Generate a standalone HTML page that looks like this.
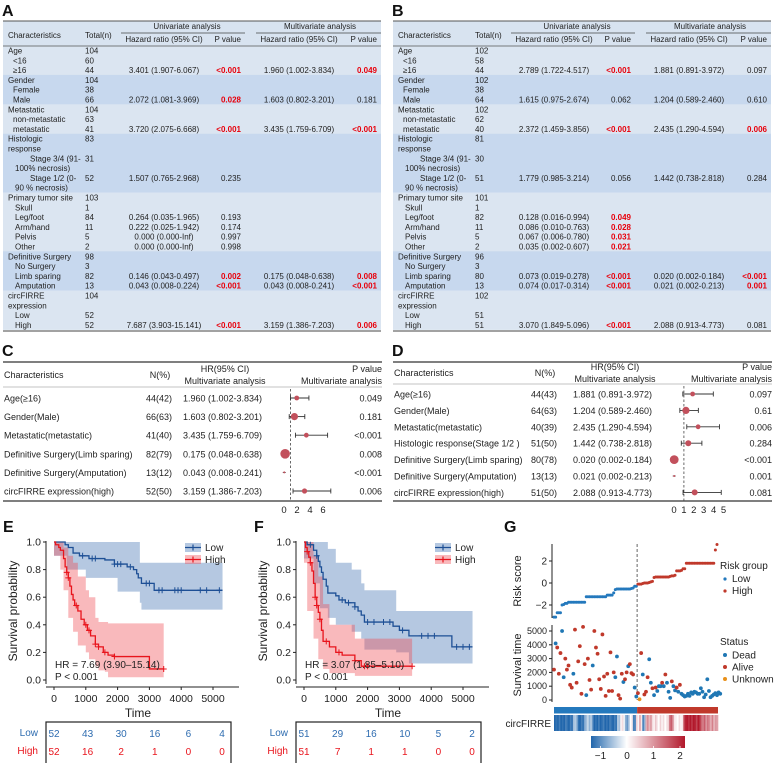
<!DOCTYPE html>
<html><head><meta charset="utf-8">
<style>
html,body{margin:0;padding:0;background:#fff;}
svg{display:block;font-family:"Liberation Sans",Arial,sans-serif;}
</style></head>
<body>
<svg id="fig" width="777" height="763" viewBox="0 0 777 763" xmlns="http://www.w3.org/2000/svg"></svg>
<script>
// ---------- DATA ----------
const tableA_rows = [
 ['Age',0,'104','','',0,'','',0,0],
 ['<16',5,'60','','',0,'','',0,0],
 ['\u226516',5,'44','3.401 (1.907-6.067)','<0.001',1,'1.960 (1.002-3.834)','0.049',1,0],
 ['Gender',0,'104','','',0,'','',0,1],
 ['Female',5,'38','','',0,'','',0,1],
 ['Male',5,'66','2.072 (1.081-3.969)','0.028',1,'1.603 (0.802-3.201)','0.181',0,1],
 ['Metastatic',0,'104','','',0,'','',0,0],
 ['non-metastatic',5,'63','','',0,'','',0,0],
 ['metastatic',5,'41','3.720 (2.075-6.668)','<0.001',1,'3.435 (1.759-6.709)','<0.001',1,0],
 ['Histologic',0,'83','','',0,'','',0,1],
 ['response',0,'','','',0,'','',0,1],
 ['Stage 3/4 (91-',22,'31','','',0,'','',0,1],
 ['100% necrosis)',7,'','','',0,'','',0,1],
 ['Stage 1/2 (0-',22,'52','1.507 (0.765-2.968)','0.235',0,'','',0,1],
 ['90 % necrosis)',7,'','','',0,'','',0,1],
 ['Primary tumor site',0,'103','','',0,'','',0,0],
 ['Skull',7,'1','','',0,'','',0,0],
 ['Leg/foot',7,'84','0.264 (0.035-1.965)','0.193',0,'','',0,0],
 ['Arm/hand',7,'11','0.222 (0.025-1.942)','0.174',0,'','',0,0],
 ['Pelvis',7,'5','0.000 (0.000-Inf)','0.997',0,'','',0,0],
 ['Other',7,'2','0.000 (0.000-Inf)','0.998',0,'','',0,0],
 ['Definitive Surgery',0,'98','','',0,'','',0,1],
 ['No Surgery',7,'3','','',0,'','',0,1],
 ['Limb sparing',7,'82','0.146 (0.043-0.497)','0.002',1,'0.175 (0.048-0.638)','0.008',1,1],
 ['Amputation',7,'13','0.043 (0.008-0.224)','<0.001',1,'0.043 (0.008-0.241)','<0.001',1,1],
 ['circFIRRE',0,'104','','',0,'','',0,0],
 ['expression',0,'','','',0,'','',0,0],
 ['Low',7,'52','','',0,'','',0,0],
 ['High',7,'52','7.687 (3.903-15.141)','<0.001',1,'3.159 (1.386-7.203)','0.006',1,0]
];
const tableB_rows = [
 ['Age',0,'102','','',0,'','',0,0],
 ['<16',5,'58','','',0,'','',0,0],
 ['\u226516',5,'44','2.789 (1.722-4.517)','<0.001',1,'1.881 (0.891-3.972)','0.097',0,0],
 ['Gender',0,'102','','',0,'','',0,1],
 ['Female',5,'38','','',0,'','',0,1],
 ['Male',5,'64','1.615 (0.975-2.674)','0.062',0,'1.204 (0.589-2.460)','0.610',0,1],
 ['Metastatic',0,'102','','',0,'','',0,0],
 ['non-metastatic',5,'62','','',0,'','',0,0],
 ['metastatic',5,'40','2.372 (1.459-3.856)','<0.001',1,'2.435 (1.290-4.594)','0.006',1,0],
 ['Histologic',0,'81','','',0,'','',0,1],
 ['response',0,'','','',0,'','',0,1],
 ['Stage 3/4 (91-',22,'30','','',0,'','',0,1],
 ['100% necrosis)',7,'','','',0,'','',0,1],
 ['Stage 1/2 (0-',22,'51','1.779 (0.985-3.214)','0.056',0,'1.442 (0.738-2.818)','0.284',0,1],
 ['90 % necrosis)',7,'','','',0,'','',0,1],
 ['Primary tumor site',0,'101','','',0,'','',0,0],
 ['Skull',7,'1','','',0,'','',0,0],
 ['Leg/foot',7,'82','0.128 (0.016-0.994)','0.049',1,'','',0,0],
 ['Arm/hand',7,'11','0.086 (0.010-0.763)','0.028',1,'','',0,0],
 ['Pelvis',7,'5','0.067 (0.006-0.780)','0.031',1,'','',0,0],
 ['Other',7,'2','0.035 (0.002-0.607)','0.021',1,'','',0,0],
 ['Definitive Surgery',0,'96','','',0,'','',0,1],
 ['No Surgery',7,'3','','',0,'','',0,1],
 ['Limb sparing',7,'80','0.073 (0.019-0.278)','<0.001',1,'0.020 (0.002-0.184)','<0.001',1,1],
 ['Amputation',7,'13','0.074 (0.017-0.314)','<0.001',1,'0.021 (0.002-0.213)','0.001',1,1],
 ['circFIRRE',0,'102','','',0,'','',0,0],
 ['expression',0,'','','',0,'','',0,0],
 ['Low',7,'51','','',0,'','',0,0],
 ['High',7,'51','3.070 (1.849-5.096)','<0.001',1,'2.088 (0.913-4.773)','0.081',0,0]
];

// Forest C
const forestC_labels = ['Age(\u226516)','Gender(Male)','Metastatic(metastatic)','Definitive Surgery(Limb sparing)','Definitive Surgery(Amputation)','circFIRRE expression(high)'];
const forestC_n = ['44(42)','66(63)','41(40)','82(79)','13(12)','52(50)'];
const forestC_hr = [1.960,1.603,3.435,0.175,0.043,3.159];
const forestC_lo = [1.002,0.802,1.759,0.048,0.008,1.386];
const forestC_hi = [3.834,3.201,6.709,0.638,0.241,7.203];
const forestC_p = ['0.049','0.181','<0.001','0.008','<0.001','0.006'];
const forestC_box = [2.4,3.6,2.4,4.8,1.0,2.6];
const forestC_ticks = [0,2,4,6];
// Forest D
const forestD_labels = ['Age(\u226516)','Gender(Male)','Metastatic(metastatic)','Histologic response(Stage 1/2 )','Definitive Surgery(Limb sparing)','Definitive Surgery(Amputation)','circFIRRE expression(high)'];
const forestD_n = ['44(43)','64(63)','40(39)','51(50)','80(78)','13(13)','51(50)'];
const forestD_hr = [1.881,1.204,2.435,1.442,0.020,0.021,2.088];
const forestD_lo = [0.891,0.589,1.290,0.738,0.002,0.002,0.913];
const forestD_hi = [3.972,2.460,4.594,2.818,0.184,0.213,4.773];
const forestD_p = ['0.097','0.61','0.006','0.284','<0.001','0.001','0.081'];
const forestD_box = [2.4,3.6,2.4,3.0,4.4,1.0,3.0];
const forestD_ticks = [0,1,2,3,4,5];

// KM E
const kmE_lowT = [0,350,450,600,800,1100,1600,1900,2300,2500,2600,2650,2750,3150];
const kmE_lowS = [1,0.98,0.96,0.92,0.90,0.88,0.87,0.84,0.82,0.80,0.77,0.74,0.70,0.65];
const kmE_lowEnd = 5300;
const kmE_lowCens = [900,1200,1300,1900,2000,2100,2400,2900,3000,3300,3400,3800,3900,4000,4600,4800,5200];
const kmE_highT = [0,50,150,200,300,350,400,450,500,550,600,650,750,850,950,1050,1150,1300,1400,1550,1700,1900,3000];
const kmE_highS = [1,0.98,0.96,0.94,0.88,0.82,0.78,0.74,0.68,0.62,0.58,0.54,0.50,0.44,0.40,0.36,0.32,0.26,0.24,0.20,0.18,0.17,0.08];
const kmE_highEnd = 3450;
const kmE_highCens = [400,450,700,1000,1100,1300,1400,1600,1900,3450];
const bandE_lowT = [0,400,1000,2000,2700,2750,3150,5300];
const bandE_lowUp = [1,1,1,1,0.85,0.85,0.85,0.85];
const bandE_lowLo = [0.96,0.9,0.8,0.74,0.64,0.56,0.51,0.51];
const bandE_highT = [0,200,300,450,600,750,1000,1100,1300,1400,1600,1700,3000,3450];
const bandE_highUp = [1,1,0.96,0.9,0.85,0.75,0.65,0.6,0.45,0.42,0.42,0.41,0.41,0.41];
const bandE_highLo = [0.96,0.9,0.8,0.65,0.45,0.35,0.25,0.2,0.15,0.1,0.07,0.06,0.02,0.02];
// KM F
const kmF_lowT = [0,100,300,400,450,500,550,600,700,750,1000,1100,1300,1600,1700,1800,1900,2800,3000,3300,4650];
const kmF_lowS = [1,0.98,0.94,0.90,0.86,0.82,0.78,0.73,0.68,0.63,0.61,0.58,0.56,0.53,0.50,0.47,0.42,0.39,0.36,0.32,0.24];
const kmF_lowEnd = 5300;
const kmF_lowCens = [200,400,1200,1400,1600,2000,2200,2500,2700,3100,3700,3900,4100,4800,5000,5200];
const kmF_highT = [0,50,100,150,200,250,300,350,400,450,500,550,600,800,1000,1200,1600,1800];
const kmF_highS = [1,0.96,0.93,0.89,0.85,0.79,0.70,0.60,0.54,0.49,0.44,0.36,0.28,0.24,0.20,0.18,0.14,0.10];
const kmF_highEnd = 3400;
const kmF_highCens = [100,200,350,400,500,700,1100,1600,1900,2000,3400];
const bandF_lowT = [0,300,500,750,1000,1500,1800,1900,2900,3300,4650,5300];
const bandF_lowUp = [1,1,1,0.95,0.85,0.8,0.7,0.65,0.5,0.5,0.5,0.5];
const bandF_lowLo = [0.96,0.88,0.7,0.52,0.45,0.4,0.35,0.3,0.22,0.2,0.12,0.12];
const bandF_highT = [0,100,300,450,600,800,1600,1800,3400];
const bandF_highUp = [1,1,0.9,0.75,0.55,0.4,0.3,0.3,0.3];
const bandF_highLo = [0.96,0.85,0.5,0.3,0.15,0.08,0.05,0.03,0.03];
const riskTimes = [0,1000,2000,3000,4000,5000];
const riskE_low = [52,43,30,16,6,4];
const riskE_high = [52,16,2,1,0,0];
const riskF_low = [51,29,16,10,5,2];
const riskF_high = [51,7,1,1,0,0];

// G
const riskScore = [-3.1,-3.1,-2.7,-2.7,-2.7,-2.0,-1.95,-1.85,-1.85,-1.75,-1.75,-1.75,-1.75,-1.75,-1.75,-1.75,-1.75,-1.75,-1.75,-1.75,
 -1.25,-1.25,-1.25,-1.25,-1.25,-1.25,-1.25,-1.25,-1.25,-1.25,-1.25,-1.25,-1.25,-1.1,-1.1,-1.1,-1.1,-0.9,-0.6,-0.55,
 -0.55,-0.55,-0.55,-0.55,-0.55,-0.55,-0.55,-0.55,-0.5,-0.45,-0.3,-0.3,
 -0.1,-0.1,-0.1,-0.05,0.0,0.0,0.0,0.05,0.1,0.15,0.5,0.55,0.55,0.55,0.55,0.55,0.55,0.55,
 0.55,0.55,0.6,0.65,0.65,0.7,1.1,1.1,1.1,1.15,1.3,1.3,1.8,1.8,1.8,1.8,1.8,1.8,1.8,1.8,
 1.8,1.8,1.8,1.8,1.8,1.8,1.8,1.8,1.8,1.8,3.0,3.5];
const survTime = [2200,4100,3800,1900,3400,5000,1650,3000,2200,2500,1100,900,1900,5100,1250,2800,3900,450,5300,2600,
 350,3000,1450,750,2500,5000,3800,3350,1500,800,4750,1700,300,1900,650,3450,650,2000,1650,3150,
 350,100,1900,1300,1500,2000,2450,2600,1950,1850,900,250,
 500,50,3400,1850,400,600,1650,2950,1250,850,350,900,650,1000,1000,1250,1000,1850,1250,600,
 150,1350,1000,700,900,600,1100,450,350,250,300,450,300,550,450,600,550,450,450,850,
 600,200,400,1500,650,200,300,400,500,350,550,450];
const survStatus = [1,0,1,1,1,0,0,1,1,1,1,1,0,1,1,1,1,1,1,1,
 0,1,1,1,0,1,1,1,1,1,1,1,1,1,1,1,1,1,0,0,
 1,1,1,0,1,1,0,1,1,1,0,0,
 1,2,1,0,1,1,1,0,0,1,0,1,0,0,0,1,0,1,0,0,
 0,1,0,0,1,0,1,0,0,0,0,0,0,0,0,0,0,0,0,0,
 0,0,0,0,0,0,0,0,0,0,0,0];
const heatExpr = [-1.2,-1.1,-1.2,-1.0,-1.3,-1.1,-1.2,-1.0,-1.1,-1.2,-1.0,-1.1,-0.5,-0.4,-0.6,-1.1,-1.2,-1.0,-1.1,-0.7,
 -0.5,-0.3,-0.6,-0.4,-0.8,-1.2,-1.1,-1.3,-1.0,-1.2,-1.1,-1.0,-1.2,-1.1,-1.3,-1.0,-1.1,-1.2,-1.0,-1.1,
 -0.4,-0.5,0.1,0.3,-0.1,-0.6,-0.8,-0.5,0.0,0.2,-1.0,-0.9,
 0.4,0.1,0.8,0.2,-1.0,-0.6,0.7,1.0,0.6,0.9,0.3,0.1,0.5,0.2,0.0,0.4,0.1,0.3,0.0,0.2,
 0.4,1.2,1.4,0.9,0.2,0.1,0.0,0.3,0.1,0.2,1.6,1.9,2.0,1.8,2.1,1.7,2.0,1.9,1.6,2.0,
 1.8,1.3,1.1,1.4,0.9,1.2,1.0,0.7,1.1,0.6,0.9,0.8];
const riskTicks = [-2,0,2];
const survTicks = [0,1000,2000,3000,4000,5000];
const cbarTicks = [-1,0,1,2];

// ---------- HELPERS ----------
const NS='http://www.w3.org/2000/svg';
const svg=document.getElementById('fig');
function mk(tag,attrs,parent){const e=document.createElementNS(NS,tag);for(const k in attrs)e.setAttribute(k,attrs[k]);(parent||svg).appendChild(e);return e;}
function tx(str,x,y,attrs,parent){const e=mk('text',Object.assign({x:x,y:y,'font-size':8,fill:'#222'},attrs||{}),parent);e.textContent=str;return e;}
function grp(name){const g=mk('g',{});return g;}

// panel labels
[['A',2,16],['B',392,16],['C',2,356],['D',392,356],['E',3,532],['F',254,532],['G',504,532]].forEach(function(p){
  const t=tx(p[0],p[1],p[2],{'font-size':16,'font-weight':'bold',fill:'#111'});
  
  
});

// ---------- TABLES ----------
function drawTable(x0,rows,name){
  const g=grp(name);
  const r0=50.5, rh=9.8;
  mk('rect',{x:x0+3,y:21,width:378,height:25,fill:'#d8e3f0'},g);
  let start=0;
  for(let i=1;i<=rows.length;i++){
    if(i===rows.length||rows[i][9]!==rows[start][9]||(rows[i][1]===0&&rows[i][2]!=='')){
      const y1=r0+start*rh-5, y2=r0+(i-1)*rh+5;
      const bg=mk('rect',{x:x0+3,y:y1,width:378,height:y2-y1,fill:rows[start][9]?'#c7d8ee':'#dbe5f1'},g);
      
      
      start=i;
    }
  }
  mk('line',{x1:x0+3,x2:x0+381,y1:21,y2:21,stroke:'#555','stroke-width':1},g);
  mk('line',{x1:x0+3,x2:x0+381,y1:46,y2:46,stroke:'#555','stroke-width':0.8},g);
  mk('line',{x1:x0+3,x2:x0+381,y1:331,y2:331,stroke:'#444','stroke-width':1},g);
  mk('line',{x1:x0+121,x2:x0+245,y1:33,y2:33,stroke:'#444','stroke-width':0.7},g);
  mk('line',{x1:x0+256,x2:x0+381,y1:33,y2:33,stroke:'#444','stroke-width':0.7},g);
  tx('Characteristics',x0+8,38,{},g);
  tx('Total(n)',x0+85,38,{},g);
  tx('Univariate analysis',x0+187,29,{'text-anchor':'middle'},g);
  tx('Multivariate analysis',x0+320,29,{'text-anchor':'middle'},g);
  tx('Hazard ratio (95% CI)',x0+164,42,{'text-anchor':'middle'},g);
  tx('P value',x0+241,42,{'text-anchor':'end'},g);
  tx('Hazard ratio (95% CI)',x0+299,42,{'text-anchor':'middle'},g);
  tx('P value',x0+377,42,{'text-anchor':'end'},g);
  rows.forEach(function(r,i){
    const y=r0+i*rh+3;
    tx(r[0],x0+8+r[1],y,{},g);
    if(r[2])tx(r[2],x0+85,y,{},g);
    if(r[3])tx(r[3],x0+164,y,{'text-anchor':'middle'},g);
    if(r[4])tx(r[4],x0+241,y,r[5]?{'text-anchor':'end',fill:'#e8000b','font-weight':'bold'}:{'text-anchor':'end'},g);
    if(r[6])tx(r[6],x0+299,y,{'text-anchor':'middle'},g);
    if(r[7])tx(r[7],x0+377,y,r[8]?{'text-anchor':'end',fill:'#e8000b','font-weight':'bold'}:{'text-anchor':'end'},g);
  });
}
drawTable(0,tableA_rows,'table-a-univariate-multivariate');
drawTable(390,tableB_rows,'table-b-univariate-multivariate');

// ---------- FORESTS ----------
function drawForest(cfg){
  const g=grp(cfg.name);
  const xv=function(v){return cfg.zx+cfg.k*v;};
  mk('line',{x1:cfg.x0,x2:cfg.x1,y1:362,y2:362,stroke:'#333','stroke-width':1.2},g);
  mk('line',{x1:cfg.x0,x2:cfg.x1,y1:cfg.hl,y2:cfg.hl,stroke:'#888','stroke-width':0.6},g);
  mk('line',{x1:cfg.x0,x2:cfg.x1,y1:501,y2:501,stroke:'#333','stroke-width':1.2},g);
  const fs={'font-size':9};
  tx('Characteristics',cfg.x0+1,cfg.hy+4,fs,g);
  tx('N(%)',cfg.nx-12,cfg.hy+4,Object.assign({'text-anchor':'middle'},fs),g);
  tx('HR(95% CI)',cfg.hrx+42,cfg.hy-2,Object.assign({'text-anchor':'middle'},fs),g);
  tx('Multivariate analysis',cfg.hrx+42,cfg.hy+10,Object.assign({'text-anchor':'middle'},fs),g);
  tx('P value',cfg.x1,cfg.hy-2,Object.assign({'text-anchor':'end'},fs),g);
  tx('Multivariate analysis',cfg.x1,cfg.hy+10,Object.assign({'text-anchor':'end'},fs),g);
  mk('line',{x1:xv(1),x2:xv(1),y1:cfg.hl+2,y2:501,stroke:'#444','stroke-width':0.8,'stroke-dasharray':'2.5,2'},g);
  cfg.labels.forEach(function(l,i){
    const y=cfg.ry+i*cfg.rs;
    tx(l,cfg.x0+1,y+3.5,fs,g);
    tx(cfg.n[i],cfg.nx,y+3.5,Object.assign({'text-anchor':'end'},fs),g);
    tx(cfg.hr[i].toFixed(3)+' ('+cfg.lo[i].toFixed(3)+'-'+cfg.hi[i].toFixed(3)+')',cfg.hrx,y+3.5,fs,g);
    tx(cfg.p[i],cfg.x1,y+3.5,Object.assign({'text-anchor':'end'},fs),g);
    if(cfg.hi[i]>0.5){
      const ci=mk('line',{x1:xv(cfg.lo[i]),x2:xv(cfg.hi[i]),y1:y,y2:y,stroke:'#333','stroke-width':0.9},g);
      
      
      mk('line',{x1:xv(cfg.lo[i]),x2:xv(cfg.lo[i]),y1:y-2.5,y2:y+2.5,stroke:'#333','stroke-width':0.9},g);
      mk('line',{x1:xv(cfg.hi[i]),x2:xv(cfg.hi[i]),y1:y-2.5,y2:y+2.5,stroke:'#333','stroke-width':0.9},g);
    } else if(cfg.box[i]<2){
      mk('line',{x1:xv(cfg.hr[i])-1.5,x2:xv(cfg.hr[i])+1.5,y1:y,y2:y,stroke:'#333','stroke-width':0.8},g);
    }
    const c=mk('circle',{cx:xv(cfg.hr[i]),cy:y,r:cfg.box[i],fill:'#c2505c'},g);
    
    
  });
  cfg.ticks.forEach(function(t){
    const tt=tx(String(t),xv(t),513,{'font-size':9.5,'text-anchor':'middle'},g);
    
    
  });
}
drawForest({name:'forest-plot-c',x0:3,x1:382,hl:387,hy:374,nx:172,hrx:183,zx:284,k:6.5,ry:398,rs:18.6,
  labels:forestC_labels,n:forestC_n,hr:forestC_hr,lo:forestC_lo,hi:forestC_hi,p:forestC_p,box:forestC_box,ticks:forestC_ticks});
drawForest({name:'forest-plot-d',x0:393,x1:772,hl:384,hy:372,nx:557,hrx:573,zx:674,k:9.9,ry:394,rs:16.4,
  labels:forestD_labels,n:forestD_n,hr:forestD_hr,lo:forestD_lo,hi:forestD_hi,p:forestD_p,box:forestD_box,ticks:forestD_ticks});

// ---------- KM ----------
function stepAt(T,S,t){let s=S[0];for(let i=0;i<T.length;i++){if(T[i]<=t)s=S[i];}return s;}
function drawKM(c){
  const g=grp(c.name);
  const xs=function(t){return c.ox+t*0.0318;};
  const ys=function(s){return 680-s*138;};
  function band(T,U,L,fill,name){
    let d='M'+xs(T[0])+','+ys(U[0]);
    for(let i=1;i<T.length;i++){d+=' H'+xs(T[i])+' V'+ys(U[i]);}
    d+=' V'+ys(L[L.length-1]);
    for(let i=T.length-1;i>0;i--){d+=' V'+ys(L[i])+' H'+xs(T[i-1]);}
    d+=' V'+ys(L[0])+' Z';
    const p=mk('path',{d:d,fill:fill,stroke:'none'},g);
    
    
  }
  band(c.bLowT,c.bLowU,c.bLowL,'rgba(60,110,175,0.38)','ci-band-low');
  band(c.bHighT,c.bHighU,c.bHighL,'rgba(240,70,80,0.38)','ci-band-high');
  function curve(T,S,end,cens,col,name){
    let d='M'+xs(T[0])+','+ys(S[0]);
    for(let i=1;i<T.length;i++){d+=' H'+xs(T[i])+' V'+ys(S[i]);}
    d+=' H'+xs(end);
    const p=mk('path',{d:d,fill:'none',stroke:col,'stroke-width':1.3},g);
    
    
    cens.forEach(function(t){
      const x=xs(t),y=ys(stepAt(T,S,t));
      const m=mk('path',{d:'M'+(x-3)+','+y+' H'+(x+3)+' M'+x+','+(y-3)+' V'+(y+3),stroke:col,'stroke-width':1},g);
      
      
    });
  }
  curve(c.lowT,c.lowS,c.lowEnd,c.lowCens,'#1d4f95','km-curve-low');
  curve(c.highT,c.highS,c.highEnd,c.highCens,'#e8141c','km-curve-high');
  // axes
  mk('line',{x1:c.ax,x2:c.ax,y1:541,y2:684,stroke:'#222','stroke-width':1},g);
  mk('line',{x1:xs(0)-8,x2:c.ox+185,y1:687,y2:687,stroke:'#222','stroke-width':1},g);
  [0,0.2,0.4,0.6,0.8,1.0].forEach(function(v){
    mk('line',{x1:c.ax-3,x2:c.ax,y1:ys(v),y2:ys(v),stroke:'#222'},g);
    const t=tx(v.toFixed(1),c.ax-5,ys(v)+3.5,{'font-size':10.5,'text-anchor':'end'},g);
    
    
  });
  riskTimes.forEach(function(v){
    mk('line',{x1:xs(v),x2:xs(v),y1:687,y2:690,stroke:'#222'},g);
    const t=tx(String(v),xs(v),702,{'font-size':10.5,'text-anchor':'middle'},g);
    
    
  });
  const xt=tx('Time',c.ox+84,717,{'font-size':12,'text-anchor':'middle'},g);
  
  
  const yt=tx('Survival probability',0,0,{'font-size':12,'text-anchor':'middle',transform:'translate('+(c.ax-29)+',611) rotate(-90)'},g);
  
  
  tx(c.hr,c.ox+1,668,{'font-size':10},g);
  tx('P < 0.001',c.ox+1,680,{'font-size':10},g);
  // legend
  const lx=c.ox+131;
  const l1=mk('rect',{x:lx,y:543,width:16,height:9,fill:'rgba(60,110,175,0.38)'},g);
  
  
  mk('path',{d:'M'+lx+',547.5 H'+(lx+16)+' M'+(lx+8)+',544.5 V550.5',stroke:'#1d4f95','stroke-width':1.2},g);
  tx('Low',lx+20,551,{'font-size':10},g);
  const l2=mk('rect',{x:lx,y:555,width:16,height:9,fill:'rgba(240,70,80,0.38)'},g);
  
  
  mk('path',{d:'M'+lx+',559.5 H'+(lx+16)+' M'+(lx+8)+',556.5 V562.5',stroke:'#e8141c','stroke-width':1.2},g);
  tx('High',lx+20,563,{'font-size':10},g);
  // risk table
  const box=mk('rect',{x:c.ax,y:722,width:185,height:44,fill:'none',stroke:'#222','stroke-width':1.2},g);
  
  
  tx('Low',c.ax-8,736,{'font-size':10,'text-anchor':'end',fill:'#2e6cb0'},g);
  tx('High',c.ax-8,754,{'font-size':10,'text-anchor':'end',fill:'#e8141c'},g);
  c.rLow.forEach(function(v,i){tx(String(v),c.ox+i*33.6,737,{'font-size':10,'text-anchor':'middle',fill:'#2e6cb0'},g);});
  c.rHigh.forEach(function(v,i){tx(String(v),c.ox+i*33.6,755,{'font-size':10,'text-anchor':'middle',fill:'#e8141c'},g);});
}
drawKM({name:'km-plot-e',ox:54,ax:46,lowT:kmE_lowT,lowS:kmE_lowS,lowEnd:kmE_lowEnd,lowCens:kmE_lowCens,
  highT:kmE_highT,highS:kmE_highS,highEnd:kmE_highEnd,highCens:kmE_highCens,
  bLowT:bandE_lowT,bLowU:bandE_lowUp,bLowL:bandE_lowLo,bHighT:bandE_highT,bHighU:bandE_highUp,bHighL:bandE_highLo,
  hr:'HR = 7.69 (3.90\u201315.14)',rLow:riskE_low,rHigh:riskE_high});
drawKM({name:'km-plot-f',ox:304,ax:296,lowT:kmF_lowT,lowS:kmF_lowS,lowEnd:kmF_lowEnd,lowCens:kmF_lowCens,
  highT:kmF_highT,highS:kmF_highS,highEnd:kmF_highEnd,highCens:kmF_highCens,
  bLowT:bandF_lowT,bLowU:bandF_lowUp,bLowL:bandF_lowLo,bHighT:bandF_highT,bHighU:bandF_highUp,bHighL:bandF_highLo,
  hr:'HR = 3.07 (1.85\u20135.10)',rLow:riskF_low,rHigh:riskF_high});

// ---------- G ----------
(function(){
  const g=grp('risk-plot-g');
  const n=riskScore.length;
  const nLow=riskScore.filter(function(v){return v<-0.2;}).length;
  const xi=function(i){return 554+i*(163/(n-1));};
  const yr=function(v){return 583-v*11;};
  const yt=function(v){return 700-v*0.0138;};
  const split=(xi(nLow-1)+xi(nLow))/2;
  mk('line',{x1:552,x2:552,y1:544,y2:618,stroke:'#222'},g);
  riskTicks.forEach(function(v){
    mk('line',{x1:549,x2:552,y1:yr(v),y2:yr(v),stroke:'#222'},g);
    tx(String(v).replace('-','\u2212'),547,yr(v)+3.5,{'font-size':10,'text-anchor':'end'},g);
  });
  const rs=tx('Risk score',0,0,{'font-size':11,'text-anchor':'middle',transform:'translate(521,581) rotate(-90)'},g);
  
  
  mk('line',{x1:552,x2:552,y1:625,y2:702,stroke:'#222'},g);
  survTicks.forEach(function(v){
    mk('line',{x1:549,x2:552,y1:yt(v),y2:yt(v),stroke:'#222'},g);
    tx(String(v),547,yt(v)+3,{'font-size':9,'text-anchor':'end'},g);
  });
  const st=tx('Survival time',0,0,{'font-size':11,'text-anchor':'middle',transform:'translate(521,665) rotate(-90)'},g);
  
  
  mk('line',{x1:split,x2:split,y1:544,y2:700,stroke:'#555','stroke-width':0.9,'stroke-dasharray':'3,2'},g);
  riskScore.forEach(function(v,i){
    const d=mk('circle',{cx:xi(i),cy:yr(v),r:1.5,fill:i<nLow?'#2479bd':'#c0392b'},g);
    
    
  });
  const stCol=['#1f77b4','#c0392b','#e8901a'];
  survTime.forEach(function(v,i){
    const d=mk('circle',{cx:xi(i),cy:yt(v),r:1.9,fill:stCol[survStatus[i]]},g);
    
    
  });
  mk('rect',{x:554,y:707,width:split-554,height:6.5,fill:'#2479bd'},g);
  mk('rect',{x:split,y:707,width:718-split,height:6.5,fill:'#c0392b'},g);
  function hcol(v){
    const t=Math.max(-1.4,Math.min(2.1,v));
    let c;
    if(t<0){const f=Math.min(1,-t/1.2);c=[255+(33-255)*f,255+(102-255)*f,255+(172-255)*f];}
    else{const f=Math.min(1,t/2.0);c=[255+(178-255)*f,255+(24-255)*f,255+(43-255)*f];}
    return 'rgb('+c.map(Math.round).join(',')+')';
  }
  const cw=164/heatExpr.length;
  heatExpr.forEach(function(v,i){
    const r=mk('rect',{x:554+i*cw,y:715,width:cw+0.3,height:16,fill:hcol(v)},g);
    
    
  });
  tx('circFIRRE',551,727,{'font-size':10,'text-anchor':'end'},g);
  const defs=mk('defs',{},g);
  const lg=mk('linearGradient',{id:'cb',x1:0,x2:1,y1:0,y2:0},defs);
  mk('stop',{offset:'0','stop-color':'#2166ac'},lg);
  mk('stop',{offset:'0.38','stop-color':'#ffffff'},lg);
  mk('stop',{offset:'1','stop-color':'#b2182b'},lg);
  const cb=mk('rect',{x:591,y:736,width:94,height:12,fill:'url(#cb)'},g);
  
  
  cbarTicks.forEach(function(v){
    const x=627+v*26.5;
    mk('line',{x1:x,x2:x,y1:746,y2:748,stroke:'#fff','stroke-width':0.8},g);
    tx(String(v).replace('-','\u2212'),x,759,{'font-size':10,'text-anchor':'middle'},g);
  });
  tx('Risk group',720,569,{'font-size':10},g);
  const e1=mk('circle',{cx:725,cy:579,r:1.6,fill:'#2479bd'},g);
  
  
  tx('Low',732,582,{'font-size':10},g);
  const e2=mk('circle',{cx:725,cy:591,r:1.6,fill:'#c0392b'},g);
  
  
  tx('High',732,594,{'font-size':10},g);
  tx('Status',720,645,{'font-size':10},g);
  ['Dead','Alive','Unknown'].forEach(function(s,i){
    const e=mk('circle',{cx:725,cy:655+i*12,r:2,fill:stCol[i]},g);
    
    
    tx(s,732,658.5+i*12,{'font-size':10},g);
  });
})();
</script>
</body></html>
